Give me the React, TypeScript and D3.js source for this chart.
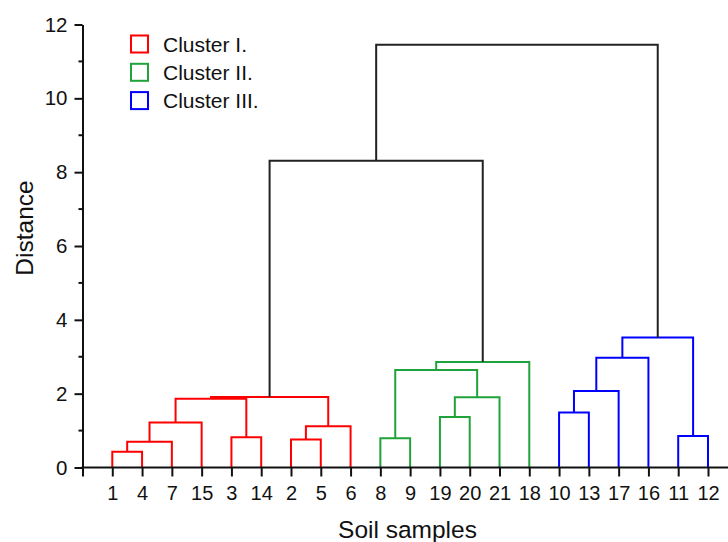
import { useEffect, useRef } from "react";
import * as d3 from "d3";

// leaf order along the x axis
const leaves = ["1", "4", "7", "15", "3", "14", "2", "5", "6", "8", "9", "19", "20", "21", "18", "10", "13", "17", "16", "11", "12"];

const clusterNames = ["Cluster I.", "Cluster II.", "Cluster III."];
const clusterColors = ["#ff0000", "#1fa33a", "#0000ff"];

// [id, left child, right child, distance, cluster index (-1 = black)]
const merges: [string, string, string, number, number][] = [
  ["m1", "1", "4", 0.43, 0],
  ["m2", "m1", "7", 0.7, 0],
  ["m3", "m2", "15", 1.22, 0],
  ["m4", "3", "14", 0.82, 0],
  ["m5", "m3", "m4", 1.86, 0],
  ["m6", "2", "5", 0.76, 0],
  ["m7", "m6", "6", 1.12, 0],
  ["m8", "m5", "m7", 1.91, 0],
  ["m9", "8", "9", 0.79, 1],
  ["m10", "19", "20", 1.37, 1],
  ["m11", "m10", "21", 1.9, 1],
  ["m12", "m9", "m11", 2.64, 1],
  ["m13", "m12", "18", 2.86, 1],
  ["m14", "10", "13", 1.49, 2],
  ["m15", "m14", "17", 2.07, 2],
  ["m16", "m15", "16", 2.97, 2],
  ["m17", "11", "12", 0.85, 2],
  ["m18", "m16", "m17", 3.52, 2],
  ["m19", "m8", "m13", 8.31, -1],
  ["m20", "m19", "m18", 11.45, -1],
];

const yTicks = [0, 2, 4, 6, 8, 10, 12];
const yMinor = [1, 3, 5, 7, 9, 11];

export default function App() {
  const svgRef = useRef(null);

  useEffect(() => {
    const width = 728;
    const height = 542;
    const font = "'Liberation Sans', Arial, sans-serif";

    d3.select(svgRef.current).selectAll("*").remove();
    const svg = d3.select(svgRef.current).attr("width", width).attr("height", height);

    const xScale = d3.scaleLinear().domain([0, leaves.length]).range([82.5, 708]);
    const yScale = d3.scaleLinear().domain([0, 12]).range([467.5, 24.5]);

    // node positions
    const pos = new Map<string, { x: number; h: number }>();
    leaves.forEach((l, i) => pos.set(l, { x: xScale(i + 1), h: 0 }));
    merges.forEach(([id, a, b, h]) => {
      pos.set(id, { x: (pos.get(a)!.x + pos.get(b)!.x) / 2, h });
    });

    svg
      .append("g")
      .selectAll("path")
      .data(merges)
      .enter()
      .append("path")
      .attr("fill", "none")
      .attr("stroke", d => (d[4] < 0 ? "#222" : clusterColors[d[4]]))
      .attr("stroke-width", 2)
      .attr("d", d => {
        const l = pos.get(d[1])!;
        const r = pos.get(d[2])!;
        const y = yScale(d[3]);
        return `M${l.x},${yScale(l.h)}V${y}H${r.x}V${yScale(r.h)}`;
      });

    // y axis
    const yAxis = svg
      .append("g")
      .attr("transform", "translate(82.5,0)")
      .call(d3.axisLeft(yScale).tickValues(yTicks).tickSize(8).tickSizeOuter(0).tickPadding(7));
    yAxis.selectAll("text").style("font-size", "20.5px").style("font-family", font).attr("fill", "#111");
    yAxis.selectAll("line,path").attr("stroke", "#111").attr("stroke-width", 2);
    yAxis
      .selectAll(".minor")
      .data(yMinor)
      .enter()
      .append("line")
      .attr("x1", -4)
      .attr("x2", 0)
      .attr("y1", d => yScale(d))
      .attr("y2", d => yScale(d))
      .attr("stroke", "#111")
      .attr("stroke-width", 2);

    // x axis
    const xAxis = svg
      .append("g")
      .attr("transform", `translate(0,${yScale(0)})`)
      .call(
        d3
          .axisBottom(xScale)
          .tickValues(d3.range(0, leaves.length + 1))
          .tickFormat(i => (i === 0 ? "" : leaves[(i as number) - 1]))
          .tickSize(9)
          .tickSizeOuter(0)
          .tickPadding(9)
      );
    xAxis.select(".domain").remove();
    xAxis
      .append("line")
      .attr("x1", 81.5)
      .attr("x2", width)
      .attr("stroke", "#111")
      .attr("stroke-width", 2);
    xAxis.selectAll("line").attr("stroke", "#111").attr("stroke-width", 2);
    xAxis.selectAll("text").style("font-size", "20px").style("font-family", font).attr("fill", "#111");

    // axis titles
    svg
      .append("text")
      .attr("transform", "translate(33,228) rotate(-90)")
      .attr("text-anchor", "middle")
      .style("font-size", "24.5px")
      .style("font-family", font)
      .attr("fill", "#111")
      .text("Distance");

    svg
      .append("text")
      .attr("x", 407.5)
      .attr("y", 538)
      .attr("text-anchor", "middle")
      .style("font-size", "24.5px")
      .style("font-family", font)
      .attr("fill", "#111")
      .text("Soil samples");

    // legend
    const legend = svg
      .append("g")
      .selectAll("g")
      .data(clusterNames)
      .enter()
      .append("g")
      .attr("transform", (d, i) => `translate(131,${44 + i * 28.3})`);
    legend
      .append("rect")
      .attr("x", 0)
      .attr("y", -8.5)
      .attr("width", 17)
      .attr("height", 17)
      .attr("fill", "none")
      .attr("stroke", (d, i) => clusterColors[i])
      .attr("stroke-width", 2);
    legend
      .append("text")
      .attr("x", 32)
      .attr("y", 7.5)
      .style("font-size", "21px")
      .style("font-family", font)
      .attr("fill", "#111")
      .text(d => d);
  }, []);

  return <svg ref={svgRef} style={{ position: "absolute", left: 0, top: 0, background: "#fff" }}></svg>;
}
